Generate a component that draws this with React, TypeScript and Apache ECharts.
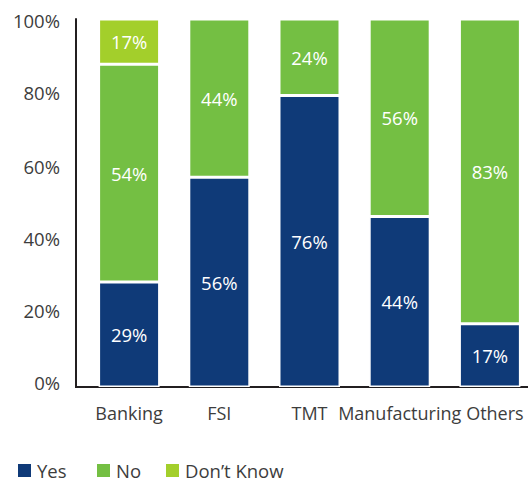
import React, { useEffect, useRef } from "react";
import * as echarts from "echarts";

const categories = ["Banking", "FSI", "TMT", "Manufacturing", "Others"];
// bar heights as drawn in the picture (share of 100%)
const yesValues = [28.5, 57, 79.2, 46.3, 17.2];
const noValues = [59.2, 43, 20.8, 53.7, 82.8];
const dkValues = [12.3, null, null, null, null];
// printed labels
const yesLabels = ["29%", "56%", "76%", "44%", "17%"];
const noLabels = ["54%", "44%", "24%", "56%", "83%"];
const dkLabels = ["17%", "", "", "", ""];
const yTicks = [0, 20, 40, 60, 80, 100];

const FONT = "'Open Sans', 'Noto Sans', sans-serif";
const TEXT = "#3d3d3d";

export default function App() {
  const ref = useRef<HTMLDivElement>(null);
  useEffect(() => {
    if (!ref.current) return;
    const chart = echarts.init(ref.current, null, { renderer: "svg" });
    const mkLabel = (labels: string[]) => ({
      show: true,
      position: "inside",
      color: "#ffffff",
      fontSize: 18.5,
      fontFamily: FONT,
      formatter: (p: any) => labels[p.dataIndex],
    });
    const seriesBase = {
      type: "bar",
      stack: "total",
      barWidth: 61,
    };
    const legendCommon = {
      top: 456,
      icon: "rect",
      itemWidth: 15,
      itemHeight: 15,
      textStyle: {
        color: TEXT,
        fontSize: 18.5,
        fontFamily: FONT,
      },
    };
    const yRich: Record<string, any> = {
      a0: { padding: [0, 0, 10, 0] },
      a20: { padding: [0, 0, 6, 0] },
      a40: { padding: [0, 0, 3, 0] },
      a60: { padding: [0, 0, 0, 0] },
      a80: { padding: [0, 0, 0, 0] },
      a100: { padding: [3, 0, 0, 0] },
    };
    const xStyle = { color: TEXT, fontSize: 18, fontFamily: FONT };
    chart.setOption({
      animation: false,
      textStyle: { fontFamily: FONT },
      grid: {
        left: 84,
        top: 19,
        width: 451,
        height: 368,
        containLabel: false,
        outerBoundsMode: "none",
      },
      legend: [
        { ...legendCommon, left: 11, data: ["Yes"] },
        { ...legendCommon, left: 90, data: ["No"] },
        { ...legendCommon, left: 159, data: ["Don’t Know"] },
      ],
      xAxis: {
        type: "category",
        data: categories,
        axisTick: { show: false },
        axisLine: { show: true, lineStyle: { color: "#231f20", width: 2 } },
        axisLabel: {
          ...xStyle,
          margin: 17,
          interval: 0,
          formatter: (v: string) => (v === "Others" ? `{o|${v}}` : `{n|${v}}`),
          rich: {
            n: { ...xStyle },
            o: { ...xStyle, padding: [0, 0, 0, 10] },
          },
        },
      },
      yAxis: {
        type: "value",
        min: yTicks[0],
        max: yTicks[yTicks.length - 1],
        interval: 20,
        offset: 8,
        axisLine: { show: true, lineStyle: { color: "#231f20", width: 2 } },
        axisTick: { show: false },
        splitLine: { show: false },
        axisLabel: {
          color: TEXT,
          fontSize: 18.5,
          fontFamily: FONT,
          margin: 16,
          formatter: (v: number) => `{a${v}|${v}%}`,
          rich: Object.fromEntries(
            Object.entries(yRich).map(([k, s]) => [
              k,
              { ...s, color: TEXT, fontSize: 18.5, fontFamily: FONT },
            ])
          ),
        },
      },
      graphic: [
        {
          type: "line",
          shape: { x1: 75, y1: 387, x2: 85, y2: 387 },
          style: { stroke: "#231f20", lineWidth: 2 },
        },
      ],
      series: [
        {
          ...seriesBase,
          name: "Yes",
          data: yesValues,
          itemStyle: { color: "#0f3a78", borderColor: "#ffffff", borderWidth: 1.5 },
          label: mkLabel(yesLabels),
        },
        {
          ...seriesBase,
          name: "No",
          data: noValues,
          itemStyle: { color: "#74bf43", borderColor: "#ffffff", borderWidth: 1.5 },
          label: mkLabel(noLabels),
        },
        {
          ...seriesBase,
          name: "Don’t Know",
          data: dkValues,
          itemStyle: { color: "#a3cf2b", borderColor: "#ffffff", borderWidth: 1.5 },
          label: mkLabel(dkLabels),
        },
      ],
    });
    return () => chart.dispose();
  }, []);
  return (
    <div
      ref={ref}
      style={{ position: "fixed", left: 0, top: 0, width: 528, height: 485, background: "#fff" }}
    />
  );
}
